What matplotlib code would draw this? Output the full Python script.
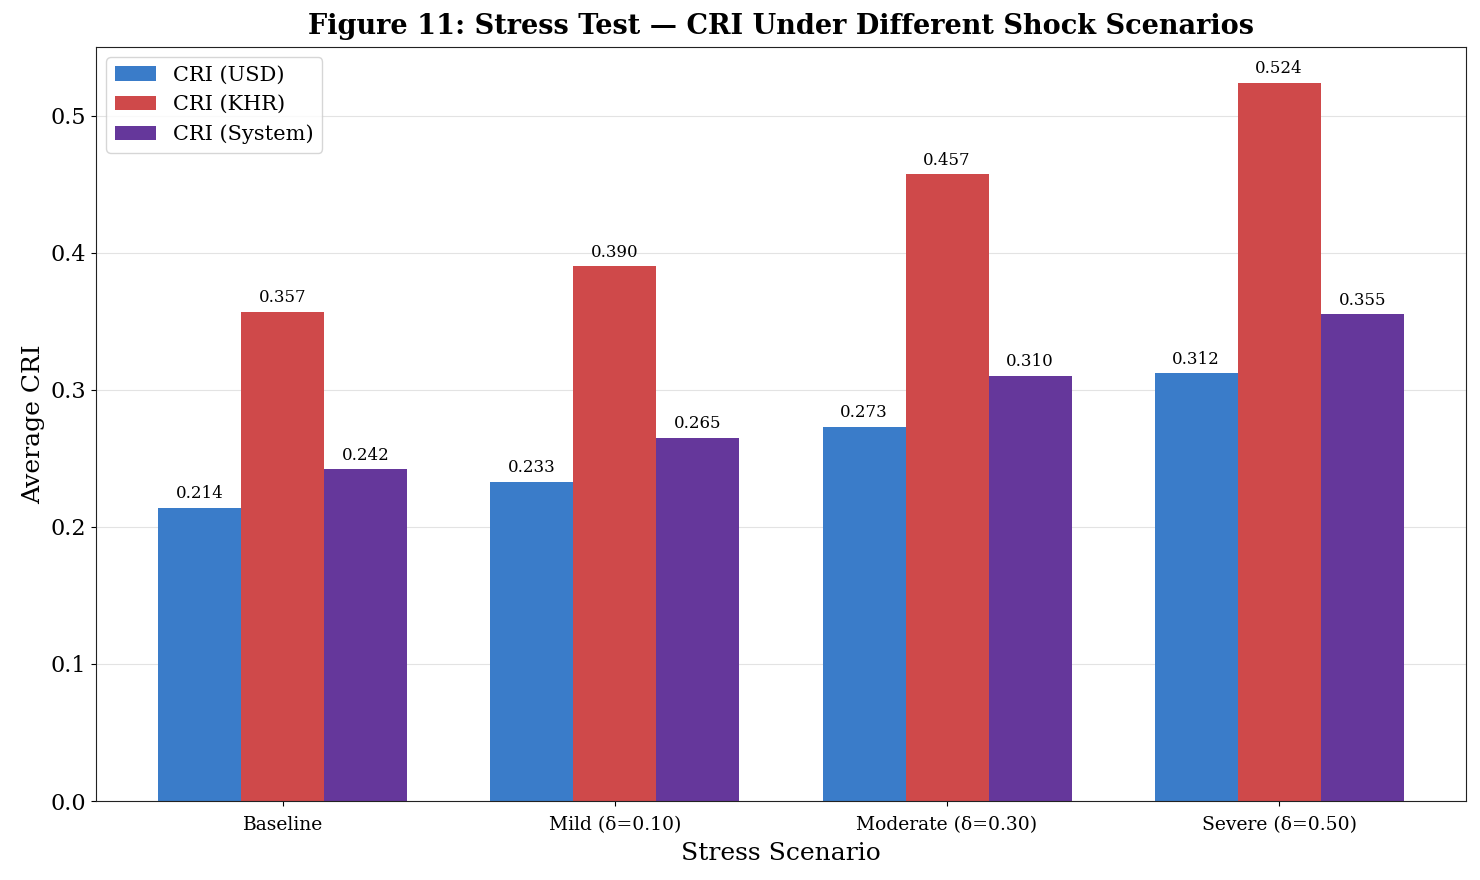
import matplotlib
matplotlib.use('Agg')
import matplotlib.pyplot as plt
import numpy as np

plt.rcParams['font.family'] = 'DejaVu Serif'

scenarios = ['Baseline', 'Mild (δ=0.10)', 'Moderate (δ=0.30)', 'Severe (δ=0.50)']
cri_usd = [0.214, 0.233, 0.273, 0.312]
cri_khr = [0.357, 0.390, 0.457, 0.524]
cri_system = [0.242, 0.265, 0.310, 0.355]

series = [
    ('CRI (USD)', cri_usd, '#3a7cc9'),
    ('CRI (KHR)', cri_khr, '#cf494a'),
    ('CRI (System)', cri_system, '#65379b'),
]

fig = plt.figure(figsize=(14.8, 8.8), dpi=100)
ax = fig.add_axes([96 / 1480, 79 / 880, 1370 / 1480, 754 / 880])

x = np.arange(len(scenarios))
width = 0.25
for i, (label, vals, color) in enumerate(series):
    bars = ax.bar(x + (i - 1) * width, vals, width, label=label, color=color)
    for b, v in zip(bars, vals):
        ax.annotate(f'{v:.3f}', (b.get_x() + b.get_width() / 2, v),
                    xytext=(0, 4), textcoords='offset points',
                    ha='center', va='bottom', fontsize=12)

ax.set_ylim(0, 0.55)
ax.set_xticks(x)
ax.set_xticklabels(scenarios, fontsize=13.5)
ax.tick_params(axis='x', pad=7)
ax.tick_params(axis='y', labelsize=16)
ax.set_xlabel('Stress Scenario', fontsize=18, labelpad=6)
ax.set_ylabel('Average CRI', fontsize=18)
ax.set_title('Figure 11: Stress Test — CRI Under Different Shock Scenarios',
             fontsize=19.5, fontweight='bold', pad=9)
ax.yaxis.grid(True, color='#d8d8d8', alpha=0.7)
ax.set_axisbelow(True)
for s in ax.spines.values():
    s.set_color('#222222')
ax.legend(loc='upper left', fontsize=15)

fig.savefig('out.png', dpi=100)
